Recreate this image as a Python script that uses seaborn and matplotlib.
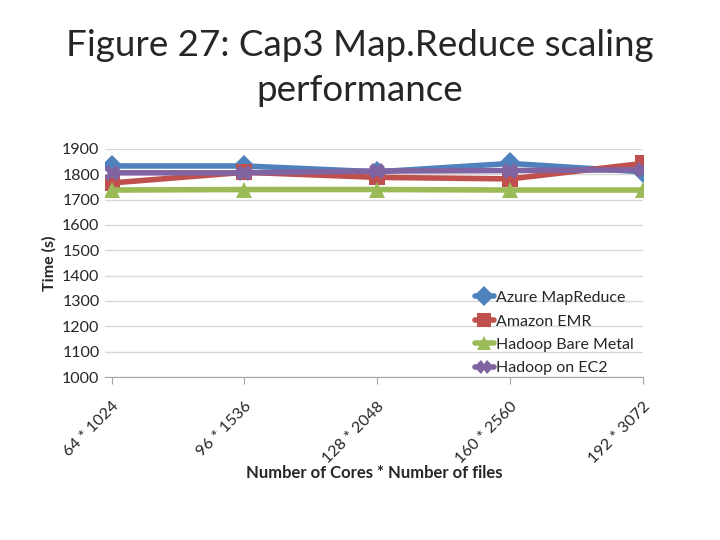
import matplotlib
matplotlib.use("Agg")
import matplotlib.pyplot as plt
import matplotlib.transforms as mtransforms
import seaborn as sns
import pandas as pd

categories = ["64 * 1024", "96 * 1536", "128 * 2048", "160 * 2560", "192 * 3072"]
azure = [1833, 1833, 1810, 1843, 1810]
amazon = [1766, 1808, 1788, 1782, 1843]
bare_metal = [1738, 1740, 1740, 1738, 1738]
ec2 = [1806, 1806, 1813, 1815, 1818]
series_names = ["Azure MapReduce", "Amazon EMR", "Hadoop Bare Metal", "Hadoop on EC2"]
yticks = list(range(1000, 2000, 100))

rows = []
for name, vals in zip(series_names, [azure, amazon, bare_metal, ec2]):
    for i, (c, v) in enumerate(zip(categories, vals)):
        rows.append({"x": i, "cat": c, "Time": v, "Series": name})
df = pd.DataFrame(rows)

sns.set_style("white")
plt.rcParams['font.family'] = ['Lato', 'DejaVu Sans']

fig = plt.figure(figsize=(7.2, 5.4), dpi=100)
ax = fig.add_axes([105/720, 1 - 377/540, (643-105)/720, (377-149)/540])

palette = {"Azure MapReduce": "#4F81BD", "Amazon EMR": "#C0504D",
           "Hadoop Bare Metal": "#9BBB59", "Hadoop on EC2": "#8064A2"}
markers = {"Azure MapReduce": "D", "Amazon EMR": "s",
           "Hadoop Bare Metal": "^", "Hadoop on EC2": "X"}
sns.lineplot(data=df, x="x", y="Time", hue="Series", style="Series",
             palette=palette, markers=markers, dashes=False, linewidth=4,
             markersize=11, markeredgewidth=0, ax=ax, legend=True)

ax.set_ylim(1000, 1900)
ax.set_yticks(yticks)
ax.set_xlim(-0.05, 4)
ax.set_xticks(range(len(categories)))
ax.set_xticklabels(categories, rotation=45, ha="right", rotation_mode="anchor", fontsize=11.5)
shift = mtransforms.ScaledTranslation(7/100, 0, fig.dpi_scale_trans)
for lbl in ax.get_xticklabels():
    lbl.set_transform(lbl.get_transform() + shift)
for lbl in ax.get_yticklabels():
    lbl.set_fontsize(11.5)
ax.yaxis.grid(True, color="#D9D9D9", linewidth=1)
ax.set_axisbelow(True)
for s in ["left", "right", "top"]:
    ax.spines[s].set_visible(False)
ax.spines["bottom"].set_color("#A6A6A6")
ax.tick_params(axis="x", length=5, color="#A6A6A6", direction="out", bottom=True, pad=11)
ax.tick_params(axis="y", length=0, pad=4)
ax.set_xlabel("Number of Cores * Number of files", fontsize=12, fontweight="bold")
ax.xaxis.set_label_coords(0.5, -(465 - 377) / 228)
ax.set_ylabel("Time (s)", fontsize=11.5, fontweight="bold", labelpad=4)

leg = ax.legend(loc="lower right", bbox_to_anchor=(1.0, -0.035), frameon=False,
                fontsize=11.5, handlelength=1.2, handletextpad=0.1, labelspacing=0.58,
                borderaxespad=0.2, markerscale=0.9)

fig.text(0.5, 1 - 68/540, "Figure 27: Cap3 Map.Reduce scaling\nperformance",
         ha="center", va="center", fontsize=26.5, linespacing=1.42)

fig.savefig("out.png", dpi=100, facecolor="white")
